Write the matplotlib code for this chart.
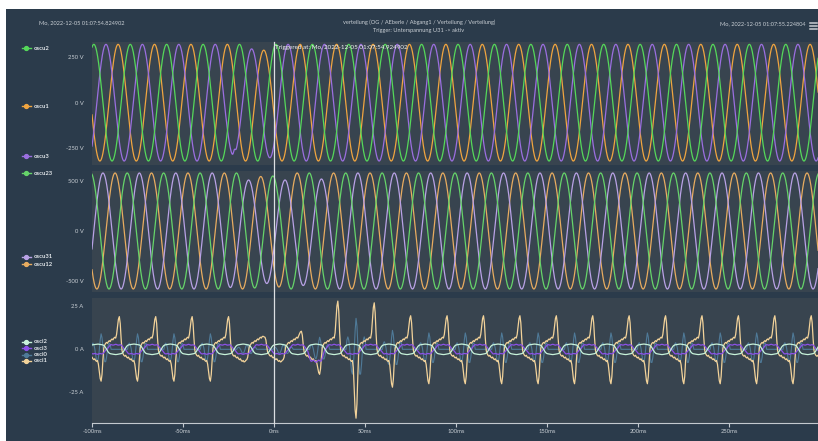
import numpy as np
import matplotlib.pyplot as plt
import matplotlib.transforms as mtransforms
from matplotlib.lines import Line2D
from matplotlib.patches import Rectangle

plt.rcParams['font.family'] = ['Lato', 'DejaVu Sans']

W, H = 818, 441


def fx(x):
    return x / W


def fy(y):
    return 1 - y / H


# ---------------- data ----------------
XMIN, XMAX = -100.0, 298.7
t_ms = np.arange(-100.0, 300.01, 0.05)     # sample instants (ms)
f_net = 50.0

# phase voltages: first peak time (ms), nominal peak (V), changed peaks {peak time: |V|}
u2_peak_t, u2_amp, u2_dips = 1.0, 322, {}
u3_peak_t, u3_amp, u3_dips = 7.67, 322, {-22.33: 292, -12.33: 297, -2.33: 304}
u1_peak_t, u1_amp, u1_dips = 14.33, 322, {-5.67: 290}
u3_notch_t, u3_notch_v = -21.8, 30.0

# line voltages
u23_peak_t, u23_amp, u23_dips = -0.67, 580, {-0.67: 550, -10.67: 570}
u31_peak_t, u31_amp, u31_dips = 6.0, 580, {-24.0: 565, -14.0: 510, -4.0: 525,
                                          6.0: 510, 16.0: 545, 26.0: 520}
u12_peak_t, u12_amp, u12_dips = 12.67, 580, {-7.33: 545, 2.67: 560}

# currents (A), 0.5 ms grid
tc = np.arange(-105.0, 305.01, 0.5)
osci1_pos_t = [-85, -65, -45, -25, -5, 15, 35, 55, 75, 95,
               115, 135, 155, 175, 195, 215, 235, 255, 275, 295]
osci1_pos_a = [19, 19, 19, 19, 7, 10.5, 28, 27, 19.5, 19.5,
               19.5, 19.5, 19.5, 19.5, 19.5, 19.5, 19.5, 19.5, 19.5, 19.5]
osci1_neg_t = [-95, -75, -55, -35, -15, 5, 25, 45, 65, 85,
               105, 125, 145, 165, 185, 205, 225, 245, 265, 285]
osci1_neg_a = [-18.5, -18.5, -18.5, -18.5, -6, -6, -14.5, -40, -22, -20,
               -20, -20, -20, -20, -20, -20, -20, -20, -20, -20]
# staircase after a positive spike (10 ms, 0.5 ms steps)
osci1_stair = [0, -1, -2.5, -3, -2.5, -3.5, -4, -3.5, -4.5, -5,
               -4.5, -5.5, -6, -5.5, -6.5, -7, -6.5, -7.5, -8, -8.5]
spike_w = [0.1, 0.45, 0.85, 1.0, 0.8, 0.4, 0.1]

# neutral current bursts at the negative spikes of osci1 (shape: -5..+5 ms)
osci0_burst = [9, 9, 9, 9, 3, 3, 7, 18, 11, 9.5,
               9.5, 9.5, 9.5, 9.5, 9.5, 9.5, 9.5, 9.5, 9.5, 9.5]
burst_shape = [0.3, 0.4, 0.3, 0.05, -0.35, -0.7, -0.8, -0.55, -0.05, 0.6, 1.0,
               0.75, 0.15, -0.45, -0.8, -0.8, -0.5, -0.05, 0.3, 0.4, 0.3]

# osci2 / osci3: (harmonic order, amplitude A), peak time (ms)
osci2_harm, osci2_peak_t = [(1, 3.4), (3, -0.55), (5, 0.2)], 3.0
osci3_harm, osci3_peak_t = [(1, 3.1), (3, -0.45), (7, 0.25)], 13.0
osci3_dips = {23.0: 8.0}


def wave(peak_t, amp, dips):
    k = np.round((t_ms - peak_t) / 10.0)
    a = np.full_like(t_ms, float(amp))
    for tp, v in dips.items():
        a[k == round((tp - peak_t) / 10.0)] = v
    return a * np.cos(2 * np.pi * f_net * (t_ms - peak_t) / 1000.0)


def harm_wave(harm, peak_t):
    x = 2 * np.pi * f_net * (t_ms - peak_t) / 1000.0
    return sum(a * np.cos(n * x) for n, a in harm)


oscu2 = wave(u2_peak_t, u2_amp, u2_dips)
oscu3 = wave(u3_peak_t, u3_amp, u3_dips)
oscu3 += u3_notch_v * np.exp(-((t_ms - u3_notch_t) / 0.7) ** 2)
oscu1 = wave(u1_peak_t, u1_amp, u1_dips)
oscu23 = wave(u23_peak_t, u23_amp, u23_dips)
oscu31 = wave(u31_peak_t, u31_amp, u31_dips)
oscu12 = wave(u12_peak_t, u12_amp, u12_dips)

# osci1: staircase + spikes
n = np.arange(len(tc)) - 20
half = n // 20
pos = n % 20
osci1 = np.array(osci1_stair)[pos] * np.where(half % 2 == 0, -1.0, 1.0)
for ts, pk in list(zip(osci1_pos_t, osci1_pos_a)) + list(zip(osci1_neg_t, osci1_neg_a)):
    i = int(round((ts - tc[0]) / 0.5))
    for off, w in zip(range(-3, 4), spike_w):
        if 0 <= i + off < len(tc):
            osci1[i + off] = osci1[i + off] * (1 - w) + pk * w

osci0 = np.zeros_like(tc)
for ts, a in zip(osci1_neg_t, osci0_burst):
    i = int(round((ts - tc[0]) / 0.5))
    for off, s in zip(range(-10, 11), burst_shape):
        if 0 <= i + off < len(tc):
            osci0[i + off] += a * s

osci2 = harm_wave(osci2_harm, osci2_peak_t)
osci3 = harm_wave(osci3_harm, osci3_peak_t)
k3 = np.round((t_ms - osci3_peak_t) / 10.0)
for tp, v in osci3_dips.items():
    m = k3 == round((tp - osci3_peak_t) / 10.0)
    osci3[m] *= v / 3.1

# ---------------- figure ----------------
BG = '#2b3b4b'
PANEL = '#38444f'
TXT = '#c8ced4'

fig = plt.figure(figsize=(W / 100, H / 100), dpi=100)
fig.patch.set_facecolor('white')
fig.add_artist(Rectangle((fx(6), 0), 1 - fx(6), fy(9), transform=fig.transFigure,
                         facecolor=BG, edgecolor='none', zorder=-10))

ax_top = fig.add_axes([fx(92), fy(165), 1 - fx(92), (165 - 42) / H])
ax_mid = fig.add_axes([fx(92), fy(292), 1 - fx(92), (292 - 171) / H])
ax_bot = fig.add_axes([fx(92), fy(423), 1 - fx(92), (423 - 298) / H])

for ax in (ax_top, ax_mid, ax_bot):
    ax.set_facecolor(PANEL)
    ax.set_xlim(XMIN, XMAX)
    for s in ax.spines.values():
        s.set_visible(False)
    ax.tick_params(axis='y', length=0, pad=6.0, labelsize=4.2, labelcolor=TXT)

lw = 0.9
ax_top.plot(t_ms, oscu1, color='#f0a540', lw=lw)
ax_top.plot(t_ms, oscu3, color='#9b6fe0', lw=lw)
ax_top.plot(t_ms, oscu2, color='#55d85a', lw=lw)
ax_top.set_ylim(-344, 335)
ax_top.set_yticks([-250, 0, 250], ['-250 V', '0 V', '250 V'])
ax_top.set_xticks([])

ax_mid.plot(t_ms, oscu12, color='#e8ac60', lw=lw)
ax_mid.plot(t_ms, oscu31, color='#b9a2e6', lw=lw)
ax_mid.plot(t_ms, oscu23, color='#66d46a', lw=lw)
ax_mid.set_ylim(-610, 600)
ax_mid.set_yticks([-500, 0, 500], ['-500 V', '0 V', '500 V'])
ax_mid.set_xticks([])

ax_bot.plot(tc, osci0, color='#4f7a98', lw=0.8)
ax_bot.plot(tc, osci1, color='#f3d39a', lw=lw)
ax_bot.plot(t_ms, osci3, color='#8c52e8', lw=0.9)
ax_bot.plot(t_ms, osci2, color='#c8f3da', lw=0.9)
ax_bot.set_ylim(-42.8, 29.8)
ax_bot.set_yticks([-25, 0, 25], ['-25 A', '0 A', '25 A'])
ax_bot.spines['bottom'].set_visible(True)
ax_bot.spines['bottom'].set_color('#c3c9cf')
ax_bot.spines['bottom'].set_linewidth(0.8)
ax_bot.set_xticks([-100, -50, 0, 50, 100, 150, 200, 250],
                  ['-100ms', '-50ms', '0ms', '50ms', '100ms', '150ms', '200ms', '250ms'])
ax_bot.tick_params(axis='x', length=2.9, width=0.8, color='#c3c9cf',
                   pad=1.5, labelsize=4.2, labelcolor=TXT)

# trigger line across all panels
trig = mtransforms.blended_transform_factory(ax_bot.transData, fig.transFigure)
fig.add_artist(Line2D([0, 0], [fy(423), fy(42)], transform=trig,
                      color='#dcdfe2', lw=0.9, zorder=5))
ax_top.text(0.6, 0.955, 'Triggered at: Mo, 2022-12-05 01:07:54.924902',
            transform=mtransforms.blended_transform_factory(ax_top.transData, ax_top.transAxes),
            fontsize=4.5, color='#f2f2f2', va='center', ha='left', zorder=6)

# header texts
fig.text(fx(39), fy(23), 'Mo, 2022-12-05 01:07:54.824902', fontsize=4.1, color=TXT, va='center')
fig.text(fx(419), fy(22.5), 'verteilung (OG / AEberle / Abgang1 / Verteilung / Verteilung)',
         fontsize=4.1, color=TXT, va='center', ha='center')
fig.text(fx(419), fy(30.5), 'Trigger: Unterspannung U31 -> aktiv',
         fontsize=4.1, color=TXT, va='center', ha='center')
fig.text(fx(805), fy(24), 'Mo, 2022-12-05 01:07:55.224804', fontsize=4.1, color=TXT,
         va='center', ha='right')
for yy in (23, 26, 29):
    fig.add_artist(Line2D([fx(810), fx(817)], [fy(yy), fy(yy)], color='#c9ced4', lw=1.1))

# legends on the left
legend = [(48, 'oscu2', '#55d85a'), (106, 'oscu1', '#f0a540'), (156, 'oscu3', '#9b6fe0'),
          (173, 'oscu23', '#66d46a'), (257, 'oscu31', '#b9a2e6'), (264, 'oscu12', '#e8ac60'),
          (341.5, 'osci2', '#c8f3da'), (348, 'osci3', '#8c52e8'),
          (354.5, 'osci0', '#4f7a98'), (361, 'osci1', '#f3d39a')]
for yy, name, col in legend:
    fig.add_artist(Line2D([fx(21.5), fx(31.5)], [fy(yy), fy(yy)], color=col, lw=1.0))
    fig.add_artist(Line2D([fx(26.5)], [fy(yy)], color=col, marker='o', ms=2.8, lw=0))
    fig.text(fx(34), fy(yy), name, fontsize=4.2, fontweight='bold', color='#e2e6ea',
             va='center', ha='left')

fig.savefig('out.png', dpi=100, facecolor=fig.get_facecolor())
